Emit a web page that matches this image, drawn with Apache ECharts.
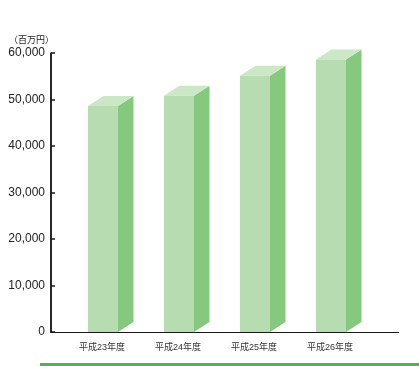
<!DOCTYPE html>
<html>
<head>
<meta charset="utf-8">
<style>
  html, body { margin: 0; padding: 0; background: #fff; }
  #chart { width: 419px; height: 366px; }
</style>
<script src="https://cdn.jsdelivr.net/npm/echarts@6/dist/echarts.min.js"></script>
</head>
<body>
<div id="chart"></div>
<script>
// Fiscal years and amounts (millions of yen)
const categories = ['平成23年度', '平成24年度', '平成25年度', '平成26年度'];
const amounts = [48600, 50800, 55100, 58600];
const yTicks = { min: 0, max: 60000, interval: 10000 };
const unitLabel = '（百万円）';

const FONT = "'Liberation Sans', 'Noto Sans CJK JP', sans-serif";
const AXIS_COLOR = '#1a1a1a';
const FACE_FRONT = '#b7dcb2';
const FACE_SIDE = '#85c97e';
const FACE_TOP = '#cbe7c6';

// Draws one 3D box: front rectangle, right side and top parallelogram
function renderBox(params, api) {
  const idx = api.value(0);
  const top = api.coord([idx, api.value(1)]);
  const base = api.coord([idx, 0]);
  const c = top[0];
  const x0 = c - 14, x1 = c + 16;
  const dx = 15.5, dy = 10;
  const yt = top[1], yb = base[1];
  return {
    type: 'group',
    children: [
      { type: 'polygon', shape: { points: [[x1, yt], [x1 + dx, yt - dy], [x1 + dx, yb - dy], [x1, yb]] },
        style: { fill: FACE_SIDE } },
      { type: 'polygon', shape: { points: [[x0, yt], [x1, yt], [x1 + dx, yt - dy], [x0 + dx, yt - dy]] },
        style: { fill: FACE_TOP } },
      { type: 'rect', shape: { x: x0, y: yt, width: x1 - x0, height: yb - yt },
        style: { fill: FACE_FRONT } }
    ]
  };
}

const chart = echarts.init(document.getElementById('chart'));
chart.setOption({
  animation: false,
  backgroundColor: '#fff',
  title: {
    text: unitLabel,
    left: 4, top: 31,
    textStyle: { fontSize: 9, fontWeight: 'normal', color: '#222', fontFamily: FONT }
  },
  grid: { left: 64, width: 304, top: 53, bottom: 34 },
  xAxis: {
    type: 'category', data: categories,
    axisLine: { show: false }, axisTick: { show: false },
    axisLabel: { fontSize: 9, color: '#333', margin: 11, fontFamily: FONT }
  },
  yAxis: {
    type: 'value', offset: 13,
    min: yTicks.min, max: yTicks.max, interval: yTicks.interval,
    axisLine: { show: true, lineStyle: { color: AXIS_COLOR, width: 1.5 } },
    axisTick: { show: true, inside: true, length: 4, lineStyle: { color: AXIS_COLOR, width: 1.5 } },
    axisLabel: { fontSize: 12, color: '#222', margin: 6, fontFamily: FONT },
    splitLine: { show: false }
  },
  graphic: [
    // left frame edge, drawn along the value axis
    { type: 'line', shape: { x1: 51, y1: 53, x2: 51, y2: 333 }, style: { stroke: AXIS_COLOR, lineWidth: 1.5 } },
    // baseline running under all the bars
    { type: 'line', shape: { x1: 51, y1: 332.5, x2: 399, y2: 332.5 }, style: { stroke: AXIS_COLOR, lineWidth: 1.2 } },
    // green rule along the bottom edge
    { type: 'rect', shape: { x: 40, y: 363, width: 379, height: 3 }, style: { fill: '#4cb848' } }
  ],
  series: [
    {
      type: 'custom',
      renderItem: renderBox,
      data: amounts.map((v, i) => [i, v])
    }
  ]
});
</script>
</body>
</html>
